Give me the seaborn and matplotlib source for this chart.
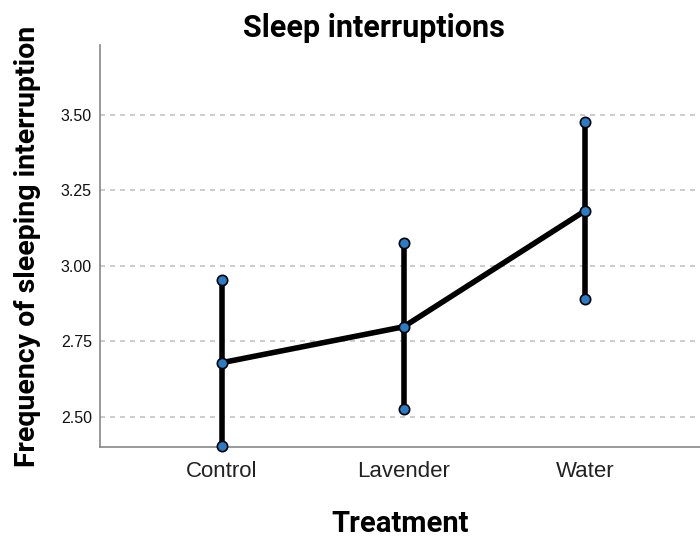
import matplotlib
matplotlib.use("Agg")
import matplotlib.pyplot as plt
import seaborn as sns
import pandas as pd

categories = ["Control", "Lavender", "Water"]
means = [2.679, 2.798, 3.183]
ci_low = [2.403, 2.524, 2.890]
ci_high = [2.953, 3.075, 3.475]
yticks = [2.50, 2.75, 3.00, 3.25, 3.50]

df = pd.DataFrame({"Treatment": categories, "mean": means, "lo": ci_low, "hi": ci_high})

sns.set_theme(style="white")
plt.rcParams["font.family"] = ["Liberation Sans", "DejaVu Sans"]

fig = plt.figure(figsize=(7.0, 5.47), dpi=100)
ax = fig.add_axes([0.143, 0.183, 0.857, 0.735])

marker_color = "#2a7cc7"

# mean line
sns.pointplot(data=df, x="Treatment", y="mean", order=categories, color="black",
              markers="", linewidth=4, errorbar=None, ax=ax, zorder=3)

# error bars
xpos = list(range(len(categories)))
ax.vlines(xpos, df["lo"], df["hi"], color="black", linewidth=4, zorder=3)

# markers at mean and ends
pts = pd.DataFrame({
    "x": xpos * 3,
    "y": list(df["mean"]) + list(df["lo"]) + list(df["hi"]),
})
ax.scatter(pts["x"], pts["y"], s=55, facecolor=marker_color, edgecolor="black",
           linewidth=1.2, zorder=5, clip_on=False)

ax.set_xlim(-0.67, 2.63)
ax.set_ylim(2.40, 3.732)
ax.set_yticks(yticks)
ax.set_yticklabels([f"{v:.2f}" for v in yticks], fontsize=11.5, color="#111111")
ax.set_xticks(xpos)
ax.set_xticklabels(categories, fontsize=16, color="#222222")
ax.tick_params(axis="both", length=0, pad=6)
ax.tick_params(axis="x", pad=10)

for v in yticks:
    ax.axhline(v, color="#c4c4c4", linewidth=1.2, linestyle=(0, (3, 3)), zorder=1)

for s in ["top", "right"]:
    ax.spines[s].set_visible(False)
for s in ["left", "bottom"]:
    ax.spines[s].set_color("#888888")
    ax.spines[s].set_linewidth(1.2)

ax.set_title("Sleep interruptions", fontsize=22, fontweight="bold", color="black",
             family=["Roboto", "DejaVu Sans"], pad=6, x=0.457)
ax.set_xlabel("Treatment", fontsize=21, fontweight="bold", color="black",
              family=["Roboto", "DejaVu Sans"], labelpad=20)
ax.set_ylabel("Frequency of sleeping interruption", fontsize=20.5, fontweight="bold",
              color="black", family=["Roboto", "DejaVu Sans"], labelpad=14)

fig.savefig("out.png", dpi=100)
